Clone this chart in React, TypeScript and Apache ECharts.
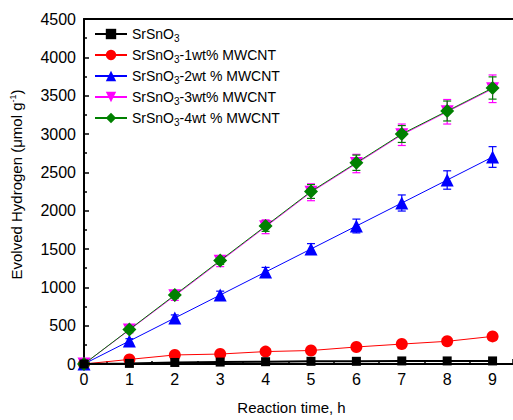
import React, { useEffect, useRef } from "react";
import * as echarts from "echarts";

const times = [0, 1, 2, 3, 4, 5, 6, 7, 8, 9];
const seriesNames = [
  "SrSnO3",
  "SrSnO3-1wt% MWCNT",
  "SrSnO3-2wt % MWCNT",
  "SrSnO3-3wt% MWCNT",
  "SrSnO3-4wt % MWCNT",
];
const pure = [0, 8, 20, 25, 30, 35, 35, 40, 40, 40];
const wt1 = [0, 60, 118, 130, 162, 176, 222, 260, 296, 360];
const wt2 = [0, 300, 600, 900, 1200, 1500, 1800, 2100, 2400, 2700];
const wt3 = [0, 445, 890, 1340, 1790, 2240, 2615, 2990, 3290, 3590];
const wt4 = [0, 450, 900, 1350, 1800, 2250, 2625, 3000, 3300, 3600];
const err2 = [0, 30, 40, 50, 60, 70, 90, 105, 120, 135];
const err3 = [0, 40, 60, 70, 90, 110, 120, 140, 160, 180];
const err4 = [0, 30, 40, 50, 70, 90, 100, 110, 130, 145];
const colors = ["#000000", "#ff0000", "#0000ff", "#ff00ff", "#008000"];

export default function App() {
  const ref = useRef<HTMLDivElement>(null);
  useEffect(() => {
    if (!ref.current) return;
    const chart = echarts.init(ref.current, null, { renderer: "svg" });
    const values = [pure, wt1, wt2, wt3, wt4];
    const sizes = [9, 12, 13, 13, 14];
    const syms = ["rect", "circle", "triangle", "path://M-10,-8L10,-8L0,10Z", "diamond"];
    const lineSeries = values.map((v, i) => ({
      name: seriesNames[i],
      type: "line",
      data: times.map((t, j) => [t, v[j]]),
      symbol: syms[i],
      symbolSize: sizes[i],
      z: i === 0 ? 6 : 3 + i * 0.1,
      lineStyle: { color: colors[i], width: i === 0 ? 2 : 1 },
      itemStyle: { color: colors[i] },
      clip: false,
    }));
    const errSeries = [
      [wt2, err2, colors[2]],
      [wt3, err3, colors[3]],
      [wt4, err4, colors[4]],
    ].map(([v, e, c]: any) => ({
      type: "custom",
      name: "err",
      z: 2,
      data: times.map((t, j) => [t, v[j] - e[j], v[j] + e[j]]),
      renderItem: (params: any, api: any) => {
        const x = api.value(0);
        const lo = api.coord([x, api.value(1)]);
        const hi = api.coord([x, api.value(2)]);
        const w = 4;
        const st = { stroke: c, lineWidth: 1.2 };
        return {
          type: "group",
          children: [
            { type: "line", shape: { x1: lo[0], y1: lo[1], x2: hi[0], y2: hi[1] }, style: st },
            { type: "line", shape: { x1: lo[0] - w, y1: lo[1], x2: lo[0] + w, y2: lo[1] }, style: st },
            { type: "line", shape: { x1: hi[0] - w, y1: hi[1], x2: hi[0] + w, y2: hi[1] }, style: st },
          ],
        };
      },
    }));
    const font = "Liberation Sans, Arial, sans-serif";
    chart.setOption({
      animation: false,
      textStyle: { fontFamily: font },
      grid: { left: 84, top: 19, right: 0, bottom: 53 },
      legend: {
        data: seriesNames,
        orient: "vertical",
        left: 94,
        top: 27,
        padding: 0,
        itemWidth: 32,
        itemHeight: 13,
        itemGap: 5,
        textStyle: {
          fontSize: 14,
          color: "#000",
          fontFamily: font,
          rich: { s: { fontSize: 10, padding: [8, 0, 0, 0], fontFamily: font, color: "#000" } },
        },
        formatter: (n: string) => n.replace("SrSnO3", "SrSnO{s|3}"),
      },
      xAxis: [
        {
          type: "value",
          min: 0,
          max: 9.45,
          interval: 1,
          name: "Reaction time, h",
          nameLocation: "middle",
          nameGap: 36,
          nameTextStyle: { fontSize: 15, color: "#000", fontFamily: font, padding: [0, 14, 0, 0] },
          axisLine: { lineStyle: { color: "#000", width: 2 } },
          axisTick: { inside: true, length: 5, lineStyle: { color: "#000", width: 1.5 } },
          minorTick: { show: true, splitNumber: 2, length: 3, lineStyle: { color: "#000", width: 1.5 } },
          axisLabel: { fontSize: 16, color: "#000", margin: 7, showMaxLabel: false, fontFamily: font },
          splitLine: { show: false },
        },
        {
          type: "value",
          position: "top",
          min: 0,
          max: 9.45,
          axisLine: { show: true, lineStyle: { color: "#000", width: 2 } },
          axisTick: { show: false },
          axisLabel: { show: false },
          splitLine: { show: false },
        },
      ],
      yAxis: {
        type: "value",
        min: 0,
        max: 4500,
        interval: 500,
        name: "Evolved Hydrogen (μmol g{sup|-1})",
        nameLocation: "middle",
        nameGap: 59,
        nameTextStyle: {
          fontSize: 15,
          color: "#000",
          fontFamily: font,
          padding: [0, 0, 0, 14],
          rich: { sup: { fontSize: 9, padding: [0, 0, 8, 0], fontFamily: font, color: "#000" } },
        },
        axisLine: { show: true, lineStyle: { color: "#000", width: 2 } },
        axisTick: { inside: true, length: 5, lineStyle: { color: "#000", width: 1.5 } },
        minorTick: { show: true, splitNumber: 2, length: 3, lineStyle: { color: "#000", width: 1.5 } },
        axisLabel: { fontSize: 16, color: "#000", margin: 8, fontFamily: font, formatter: (v: number) => String(v) },
        splitLine: { show: false },
      },
      series: [...errSeries, ...lineSeries],
    });
    return () => chart.dispose();
  }, []);
  return (
    <div
      ref={ref}
      style={{ position: "fixed", left: 0, top: 0, width: 513, height: 420, background: "#fff" }}
    />
  );
}
